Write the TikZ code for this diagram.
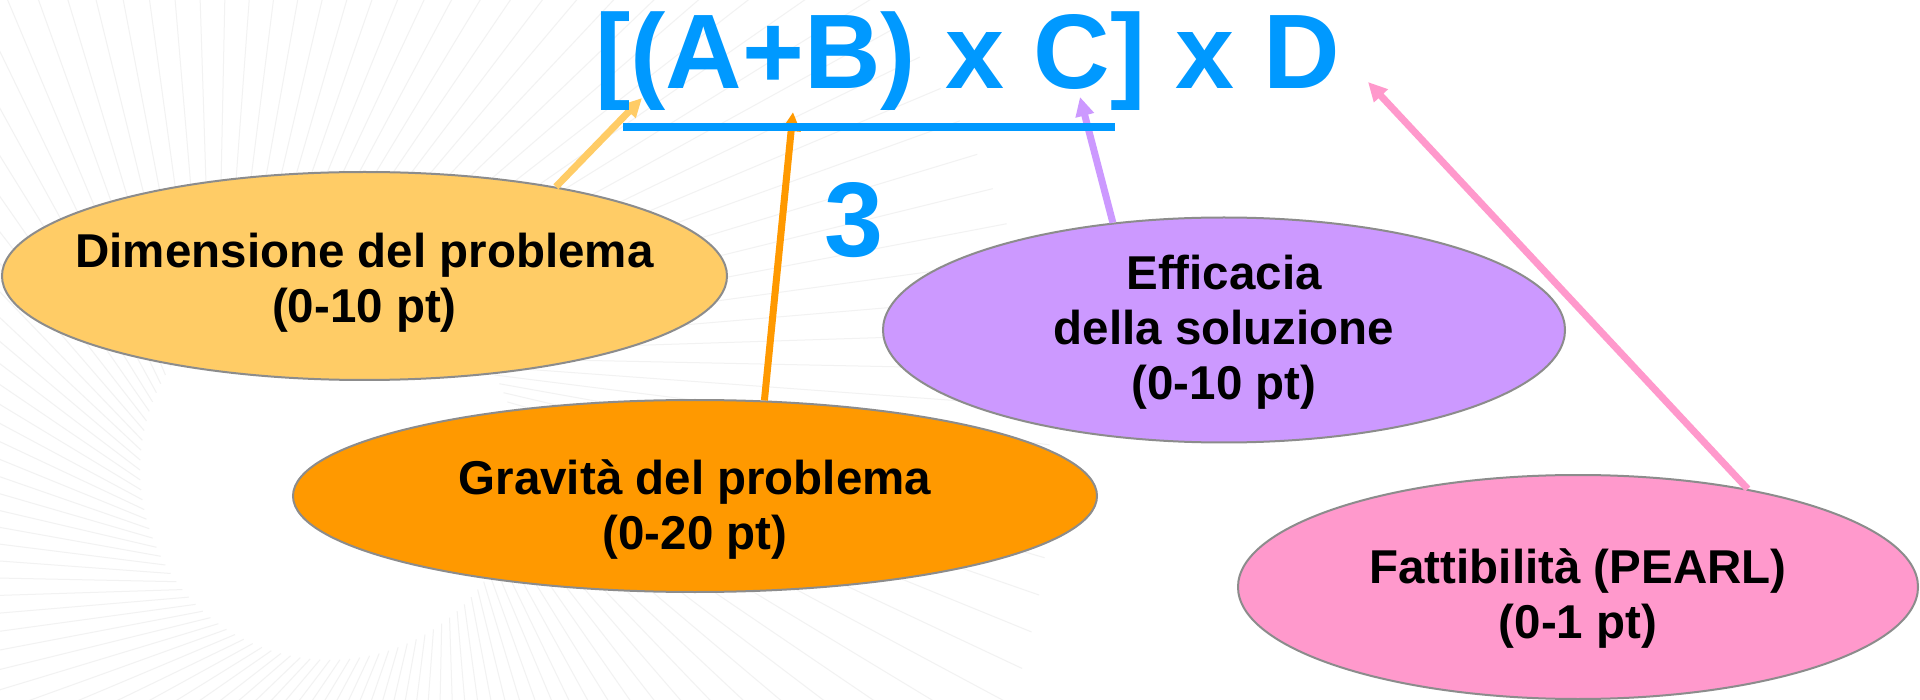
\documentclass[tikz,border=0pt]{standalone}
\usepackage{fontspec}
\setmainfont{Liberation Sans}
\usetikzlibrary{arrows.meta,shapes.geometric}
\definecolor{fblue}{RGB}{0,153,255}
\definecolor{dimyellow}{RGB}{255,204,102}
\definecolor{gravorange}{RGB}{255,153,0}
\definecolor{effpurple}{RGB}{204,153,255}
\definecolor{fattpink}{RGB}{255,153,204}
\definecolor{rimgray}{RGB}{140,140,140}
\begin{document}
\begin{tikzpicture}[x=1pt,y=-1pt,
    blob/.style={ellipse,draw=rimgray,line width=2pt,inner sep=0pt},
    blobtext/.style={font=\fontsize{47.5}{55}\selectfont\bfseries,align=center,inner sep=0pt},
    big/.style={font=\fontsize{106}{120}\selectfont\bfseries,text=fblue,inner sep=0pt},
    pointer/.style={line width=7pt,-{Triangle[length=19pt,width=18pt]}}]
    \fill[white] (0,0) rectangle (1920,700);
    \useasboundingbox (0,0) rectangle (1920,700);
    \begin{scope}
        \clip (0,0) rectangle (1920,700);
        \foreach \a in {0,3,...,357}
            \draw[black!5,line width=1pt,shift={(330,470)}] (\a:190) -- (\a+28:720);
    \end{scope}
    \node[blob,fill=dimyellow,minimum width=725pt,minimum height=208pt] (dim) at (364.5,276) {};
    \node[blob,fill=gravorange,minimum width=804pt,minimum height=192pt] (grav) at (695,496) {};
    \node[blob,fill=effpurple,minimum width=682pt,minimum height=225pt] (eff) at (1224,330) {};
    \node[blob,fill=fattpink,minimum width=680pt,minimum height=224pt] (fatt) at (1578,587) {};
    \node[blobtext] (dimtext) at (364.5,283) {Dimensione del problema\\(0-10 pt)};
    \node[blobtext] (gravtext) at (695,510) {Gravità del problema\\(0-20 pt)};
    \node[blobtext] (efftext) at (1224,332) {Efficacia\\della soluzione\\(0-10 pt)};
    \node[blobtext] (fatttext) at (1578,599) {Fattibilità (PEARL)\\(0-1 pt)};
    \coordinate (dimtip) at (642,98);
    \coordinate (gravtip) at (793,112);
    \coordinate (efftip) at (1080,97);
    \coordinate (fatttip) at (1368,82);
    \draw[pointer,dimyellow] (dim.25.4) -- (dimtip);
    \draw[pointer,gravorange] (grav.54) -- (gravtip);
    \draw[pointer,effpurple] (eff.136.5) -- (efftip);
    \draw[pointer,fattpink] (fatt.30) -- (fatttip);
    \draw[fblue,line width=8pt] (623,127) -- (1115,127);
    \node[big,anchor=base west] (formula) at (595,89) {[(A+B) x C] x D};
    \node[big,anchor=base] (three) at (854,257) {3};
\end{tikzpicture}
\end{document}
